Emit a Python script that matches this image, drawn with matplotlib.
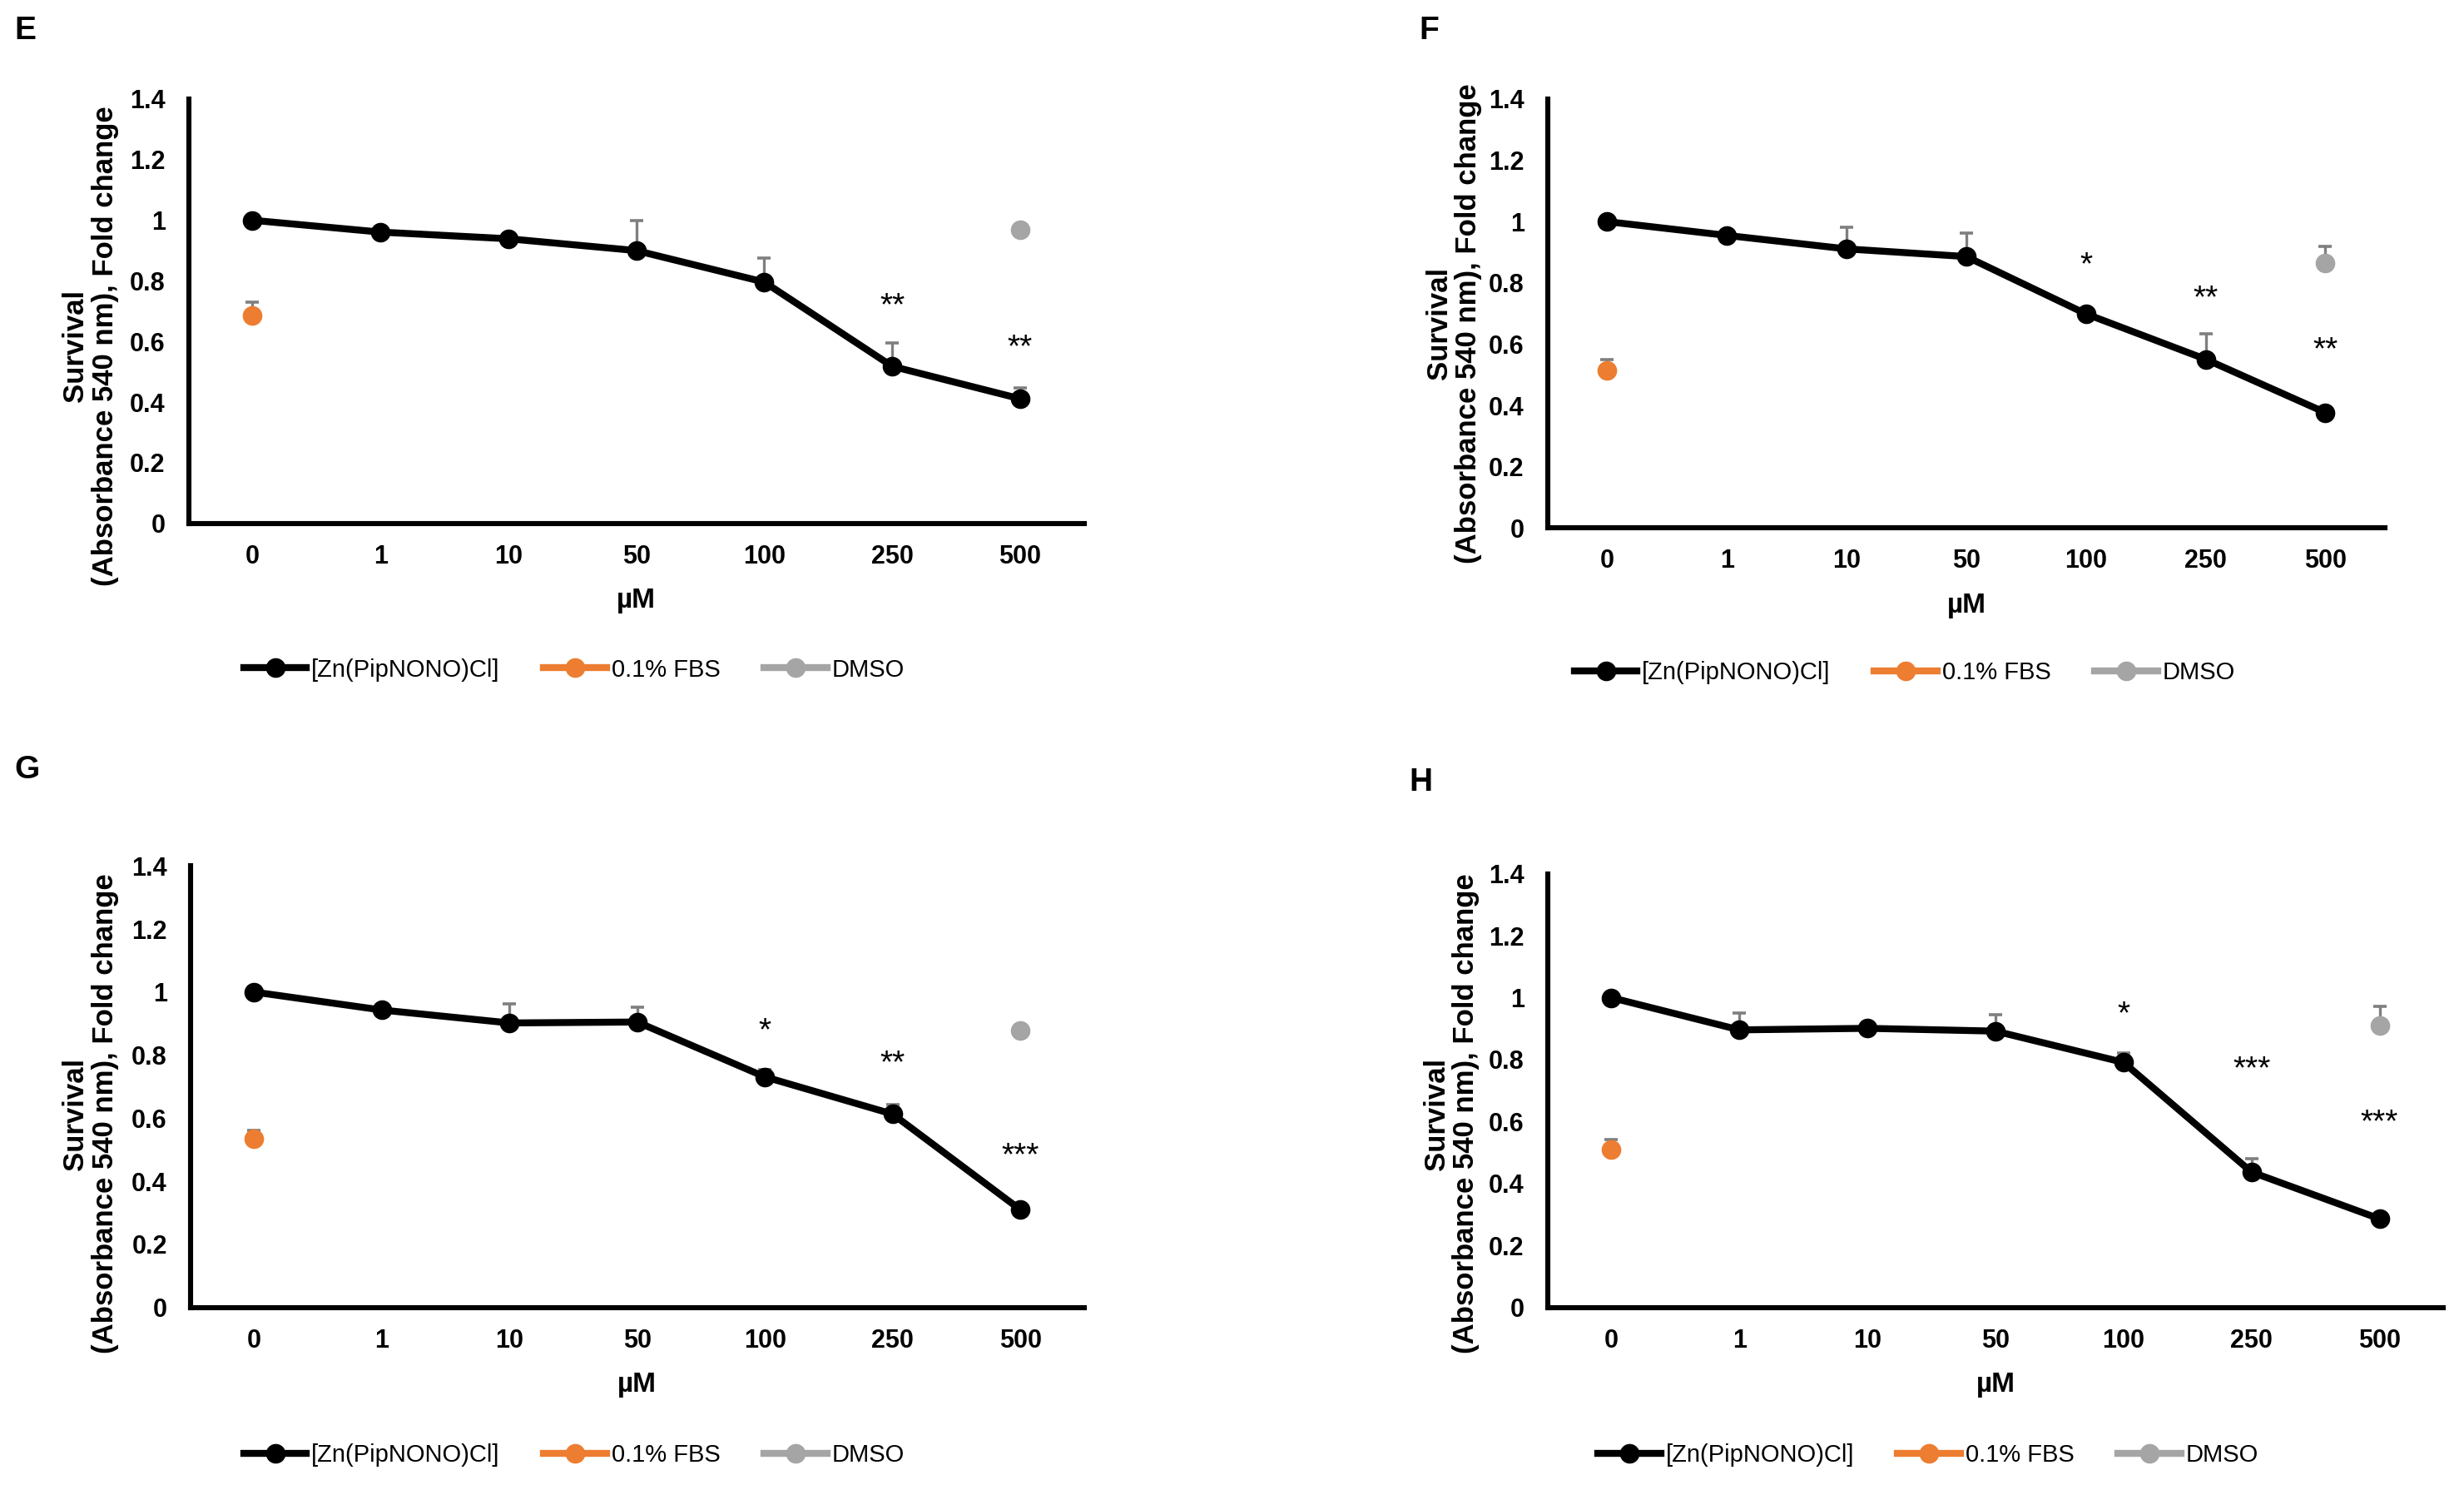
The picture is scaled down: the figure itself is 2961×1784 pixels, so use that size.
import numpy as np
import matplotlib
matplotlib.use("Agg")
import matplotlib.pyplot as plt

# concentration categories (µM)
conc = ["0", "1", "10", "50", "100", "250", "500"]

# panel E
e_zn = [1.0, 0.961, 0.939, 0.900, 0.796, 0.518, 0.411]
e_zn_err = [0, 0, 0.01, 0.098, 0.079, 0.077, 0.037]
e_fbs, e_fbs_err = 0.685, 0.044
e_dmso, e_dmso_err = 0.969, 0.0
e_stars = [(5, "**", 0.714), (6, "**", 0.577)]

# panel F
f_zn = [1.0, 0.955, 0.911, 0.886, 0.699, 0.551, 0.377]
f_zn_err = [0, 0, 0.07, 0.077, 0.012, 0.083, 0]
f_fbs, f_fbs_err = 0.514, 0.037
f_dmso, f_dmso_err = 0.864, 0.056
f_stars = [(4, "*", 0.856), (5, "**", 0.746), (6, "**", 0.579)]

# panel G
g_zn = [1.0, 0.943, 0.902, 0.905, 0.731, 0.613, 0.310]
g_zn_err = [0, 0, 0.061, 0.046, 0.024, 0.03, 0]
g_fbs, g_fbs_err = 0.534, 0.026
g_dmso, g_dmso_err = 0.879, 0.0
g_stars = [(4, "*", 0.875), (5, "**", 0.772), (6, "***", 0.478)]

# panel H
h_zn = [1.0, 0.896, 0.901, 0.892, 0.791, 0.437, 0.286]
h_zn_err = [0, 0.054, 0, 0.054, 0.031, 0.042, 0]
h_fbs, h_fbs_err = 0.509, 0.033
h_dmso, h_dmso_err = 0.910, 0.063
h_stars = [(4, "*", 0.943), (5, "***", 0.768), (6, "***", 0.596)]

series_names = ["[Zn(PipNONO)Cl]", "0.1% FBS", "DMSO"]
ylabel = "Survival\n(Absorbance 540 nm), Fold change"

NARROW = ["Liberation Sans Narrow", "Liberation Sans", "DejaVu Sans"]
SANS = ["Liberation Sans", "DejaVu Sans"]
ORANGE = "#ed7d31"
GREY = "#a5a5a5"
ERRC = "#7f7f7f"

fig = plt.figure(figsize=(2961 / 200, 1784 / 200), dpi=200)


def plus_err(ax, xs, ys, errs):
    # Excel "plus" error bars: stem upward and a cap on top only
    xs, ys, errs = np.asarray(xs), np.asarray(ys), np.asarray(errs)
    m = errs > 0
    ax.vlines(xs[m], ys[m], ys[m] + errs[m], color=ERRC, lw=1.2, zorder=2)
    ax.plot(xs[m], ys[m] + errs[m], ls="none", marker="_", ms=6, mew=1.3,
            color=ERRC, zorder=2)


def panel(rect, letter, letter_xy, ylab_xy, legend_xy, zn, zn_err,
          fbs, fbs_err, dmso, dmso_err, stars):
    ax = fig.add_axes(rect)
    x = np.arange(len(conc))

    plus_err(ax, x, zn, zn_err)
    plus_err(ax, [0], [fbs], [fbs_err])
    plus_err(ax, [6], [dmso], [dmso_err])

    ax.plot(x, zn, "-o", color="black", lw=3, ms=7.5, zorder=3, label=series_names[0])
    ax.plot([0], [fbs], "-o", color=ORANGE, lw=3, ms=7.5, zorder=3, label=series_names[1])
    ax.plot([6], [dmso], "-o", color=GREY, lw=3, ms=7.5, zorder=3, label=series_names[2])

    for i, s, yy in stars:
        ax.text(i, yy, s, ha="center", va="center", fontsize=14, family=SANS)

    ax.set_xlim(-0.5, 6.5)
    ax.set_ylim(0, 1.4)
    ax.set_yticks(np.arange(0, 1.41, 0.2))
    ax.set_yticklabels(["0", "0.2", "0.4", "0.6", "0.8", "1", "1.2", "1.4"])
    ax.set_xticks(x)
    ax.set_xticklabels(conc)
    for lab in ax.get_xticklabels() + ax.get_yticklabels():
        lab.set_family(NARROW)
        lab.set_fontweight("bold")
        lab.set_fontsize(11)
    ax.tick_params(axis="both", length=0)
    ax.tick_params(axis="x", pad=9)
    ax.tick_params(axis="y", pad=10)
    for sp in ["top", "right"]:
        ax.spines[sp].set_visible(False)
    for sp in ["left", "bottom"]:
        ax.spines[sp].set_linewidth(2.2)
    ax.set_xlabel("µM", family=NARROW, fontweight="bold", fontsize=12, labelpad=8)

    fig.text(ylab_xy[0], ylab_xy[1], ylabel, rotation=90, ha="center", va="center",
             fontsize=12.5, fontweight="bold", family=SANS, linespacing=1.1)
    fig.text(letter_xy[0], letter_xy[1], letter, ha="left", va="center",
             fontsize=14, fontweight="bold", family=NARROW)

    ax.legend(loc="center", bbox_to_anchor=legend_xy, bbox_transform=fig.transFigure,
              ncol=3, frameon=False, numpoints=1, handlelength=2.6, handletextpad=0.2,
              columnspacing=1.8, prop={"family": NARROW, "size": 10.5})
    return ax


panel([0.0765, 0.6476, 0.3635, 0.2857], "E", (0.006, 0.979), (0.0367, 0.767),
      (0.233, 0.549), e_zn, e_zn_err, e_fbs, e_fbs_err, e_dmso, e_dmso_err, e_stars)
panel([0.628, 0.6444, 0.340, 0.2889], "F", (0.576, 0.979), (0.590, 0.782),
      (0.773, 0.547), f_zn, f_zn_err, f_fbs, f_fbs_err, f_dmso, f_dmso_err, f_stars)
panel([0.0772, 0.1196, 0.3628, 0.2973], "G", (0.006, 0.4815), (0.0367, 0.250),
      (0.233, 0.020), g_zn, g_zn_err, g_fbs, g_fbs_err, g_dmso, g_dmso_err, g_stars)
panel([0.628, 0.1196, 0.3637, 0.292], "H", (0.572, 0.473), (0.589, 0.250),
      (0.7825, 0.020), h_zn, h_zn_err, h_fbs, h_fbs_err, h_dmso, h_dmso_err, h_stars)

fig.savefig("out.png", dpi=200, facecolor="white")
